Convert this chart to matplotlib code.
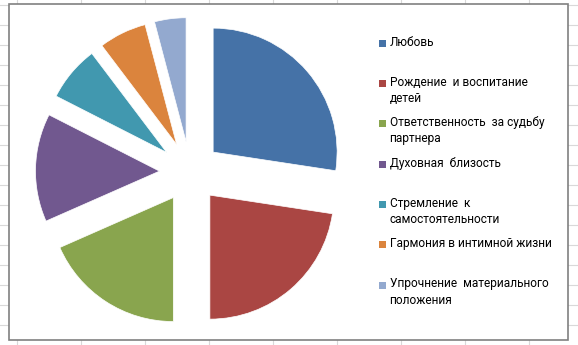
import matplotlib
matplotlib.use("Agg")
import matplotlib.pyplot as plt
from matplotlib.patches import Rectangle
from matplotlib.lines import Line2D

# доли ответов, % (по углам секторов)
labels = [
    "Любовь",
    "Рождение  и воспитание\nдетей",
    "Ответственность  за судьбу\nпартнера",
    "Духовная  близость",
    "Стремление  к\nсамостоятельности",
    "Гармония в интимной жизни",
    "Упрочнение  материального\nположения",
]
values = [27.4, 22.6, 18.4, 14.1, 7.2, 6.2, 4.1]
colors = ["#4572A7", "#AA4643", "#89A54E", "#71588F", "#4198AF", "#DB843D", "#93A9CF"]

W, H = 578, 345
R = 124
fig = plt.figure(figsize=(W / 100, H / 100), dpi=100)
fig.patch.set_facecolor("white")

# фон листа Excel: сетка ячеек
bg = fig.add_axes([0, 0, 1, 1])
bg.set_xlim(0, W)
bg.set_ylim(H, 0)
bg.axis("off")
for x in range(17, W, 64):
    bg.add_line(Line2D([x, x], [0, H], color="#d9d9d9", lw=0.8))
for y in range(5, H, 20):
    bg.add_line(Line2D([0, W], [y, y], color="#d9d9d9", lw=0.8))
bg.add_patch(Rectangle((9, 3.5), 559, 336.5, facecolor="white",
                       edgecolor="#808080", lw=1.2, zorder=2))

ax = fig.add_axes([0, 0, 1, 1])
ax.patch.set_alpha(0)
# explode в pie задаётся в единицах данных, поэтому умножаем на радиус
ax.pie(values, colors=colors, startangle=90, counterclock=False,
       explode=[0.246 * R] * len(values), radius=R, center=(190, H - 172),
       wedgeprops=dict(edgecolor="white", linewidth=0.5))
ax.set_xlim(0, W)
ax.set_ylim(0, H)
ax.set_aspect("equal")
ax.axis("off")

# легенда
leg_y = [43.5, 83, 123.5, 164, 204, 244, 285]
for lab, col, y in zip(labels, colors, leg_y):
    bg.add_patch(Rectangle((379, y - 3.5), 7, 7, facecolor=col,
                           edgecolor="none", zorder=3))
    bg.text(389.5, y - 7.5, lab, fontsize=8.6, color="#000000", va="top", ha="left",
            linespacing=1.33, family=["Roboto", "DejaVu Sans"], zorder=3)

fig.savefig("out.png", dpi=100)
